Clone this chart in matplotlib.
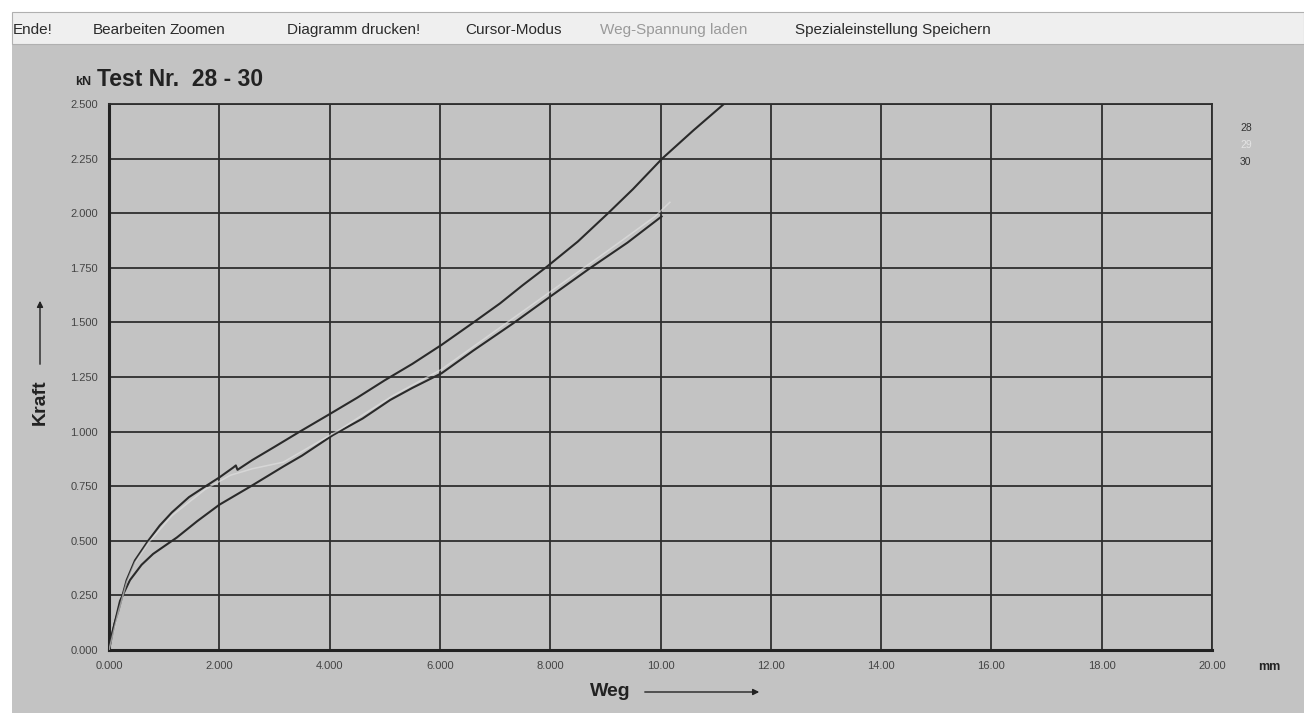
import matplotlib
matplotlib.use("Agg")
import matplotlib.pyplot as plt
from matplotlib.patches import Rectangle, FancyArrowPatch

plt.rcParams['font.family'] = ['Liberation Sans', 'DejaVu Sans']

# ---- data ----
x_ticks = [0, 2, 4, 6, 8, 10, 12, 14, 16, 18, 20]
x_tick_labels = ["0.000", "2.000", "4.000", "6.000", "8.000", "10.00",
                 "12.00", "14.00", "16.00", "18.00", "20.00"]
y_ticks = [0, 0.25, 0.5, 0.75, 1.0, 1.25, 1.5, 1.75, 2.0, 2.25, 2.5]
y_tick_labels = ["0.000", "0.250", "0.500", "0.750", "1.000", "1.250",
                 "1.500", "1.750", "2.000", "2.250", "2.500"]

x28 = [0, 0.05, 0.1, 0.17, 0.32, 0.47, 0.71, 0.92, 1.14, 1.45, 1.74, 2.0, 2.25,
       2.30, 2.33, 2.6, 3.0, 3.46, 4.0, 4.5, 5.0, 5.5, 6.03, 6.61, 7.09, 7.5,
       7.94, 8.5, 9.05, 9.5, 10.03, 10.6, 11.15]
y28 = [0, 0.07, 0.12, 0.18, 0.32, 0.41, 0.50, 0.57, 0.63, 0.70, 0.748, 0.79, 0.835,
       0.845, 0.825, 0.87, 0.93, 1.0, 1.08, 1.155, 1.235, 1.31, 1.397, 1.50, 1.587,
       1.67, 1.755, 1.87, 2.0, 2.11, 2.25, 2.38, 2.50]

x29 = [0, 0.17, 0.32, 0.47, 0.71, 1.14, 1.74, 2.2, 2.6, 3.16, 4.19, 5.15,
       6.03, 7.0, 8.0, 9.0, 9.9, 10.17]
y29 = [0, 0.175, 0.31, 0.40, 0.49, 0.615, 0.735, 0.80, 0.83, 0.86, 1.01, 1.165,
       1.285, 1.46, 1.64, 1.82, 1.985, 2.05]

x30 = [0, 0.1, 0.2, 0.38, 0.59, 0.8, 1.0, 1.23, 1.6, 2.0, 2.56, 3.16, 3.5, 4.06,
       4.6, 5.1, 5.5, 6.03, 6.6, 7.33, 8.0, 8.72, 9.4, 10.02]
y30 = [0, 0.12, 0.225, 0.32, 0.39, 0.44, 0.475, 0.515, 0.59, 0.665, 0.748, 0.84,
       0.89, 0.984, 1.06, 1.145, 1.20, 1.267, 1.37, 1.496, 1.618, 1.748, 1.865, 1.985]

series_names = ["28", "29", "30"]
series_colors = ["#2a2a2a", "#e4e4e4", "#2a2a2a"]

menu_items = ["Ende!", "Bearbeiten", "Zoomen", "Diagramm drucken!", "Cursor-Modus",
              "Weg-Spannung laden", "Spezialeinstellung Speichern"]
menu_x = [13, 93, 170, 287, 465, 600, 795]

W, H = 1304, 713
bg = "#c3c3c3"
fig = plt.figure(figsize=(W / 100, H / 100), dpi=100)
fig.patch.set_facecolor("white")

def fx(px):
    return px / W

def fy(py):
    return 1 - py / H

# gray panel
fig.add_artist(Rectangle((fx(12), 0), 1 - fx(12), fy(44), transform=fig.transFigure,
                         facecolor=bg, edgecolor="none", zorder=-10))
# menu bar
fig.add_artist(Rectangle((fx(12), fy(44)), 1 - fx(12), fy(12) - fy(44),
                         transform=fig.transFigure, facecolor="#efefef",
                         edgecolor="#b0b0b0", linewidth=0.8, zorder=-10))
for name, mx in zip(menu_items, menu_x):
    col = "#9a9a9a" if name.startswith("Weg-") else "#2a2a2a"
    fig.text(fx(mx), fy(30), name, fontsize=11, color=col, va="center", ha="left")

ax = fig.add_axes([fx(109), fy(650), fx(1212) - fx(109), fy(104) - fy(650)])
ax.set_zorder(1)
ax.set_facecolor(bg)
ax.set_xlim(0, 20)
ax.set_ylim(0, 2.5)
ax.set_xticks(x_ticks)
ax.set_xticklabels(x_tick_labels)
ax.set_yticks(y_ticks)
ax.set_yticklabels(y_tick_labels)
ax.tick_params(length=0, labelsize=8, labelcolor="#444444", pad=8)
ax.grid(True, color="#2e2e2e", linewidth=1.3)
ax.set_axisbelow(True)
for s in ["left", "bottom"]:
    ax.spines[s].set_linewidth(2.2)
    ax.spines[s].set_color("#222222")
for s in ["top", "right"]:
    ax.spines[s].set_linewidth(1.3)
    ax.spines[s].set_color("#2e2e2e")

ax.plot(x28, y28, color=series_colors[0], linewidth=1.5, zorder=3)
ax.plot(x30, y30, color=series_colors[2], linewidth=1.5, zorder=3)
ax.plot(x29, y29, color=series_colors[1], linewidth=1.1, alpha=0.6, zorder=4)

# legend labels at right
for i, (n, c) in enumerate(zip(series_names, series_colors)):
    fig.text(fx(1240), fy(128 + 17 * i), n, fontsize=7.5,
             color=c if c != "#2a2a2a" else "#333333", va="center", ha="left")

# titles
fig.text(fx(75), fy(82), "kN", fontsize=9, fontweight="bold", color="#222222", va="center")
fig.text(fx(97), fy(80), "Test Nr.  28 - 30", fontsize=16.5, fontweight="bold",
         color="#222222", va="center")
fig.text(fx(1258), fy(667), "mm", fontsize=9, fontweight="bold", color="#222222", va="center")

# axis labels with arrows
fig.text(fx(40), fy(402), "Kraft", fontsize=14, fontweight="bold", rotation=90,
         color="#222222", va="center", ha="center")
fig.add_artist(FancyArrowPatch((fx(40), fy(367)), (fx(40), fy(298)),
               transform=fig.transFigure, arrowstyle="-|>", mutation_scale=9,
               color="#222222", linewidth=1.0))
fig.text(fx(610), fy(692), "Weg", fontsize=14, fontweight="bold",
         color="#222222", va="center", ha="center")
fig.add_artist(FancyArrowPatch((fx(642), fy(692)), (fx(762), fy(692)),
               transform=fig.transFigure, arrowstyle="-|>", mutation_scale=9,
               color="#222222", linewidth=1.0))

fig.savefig("out.png", dpi=100, facecolor=fig.get_facecolor())
